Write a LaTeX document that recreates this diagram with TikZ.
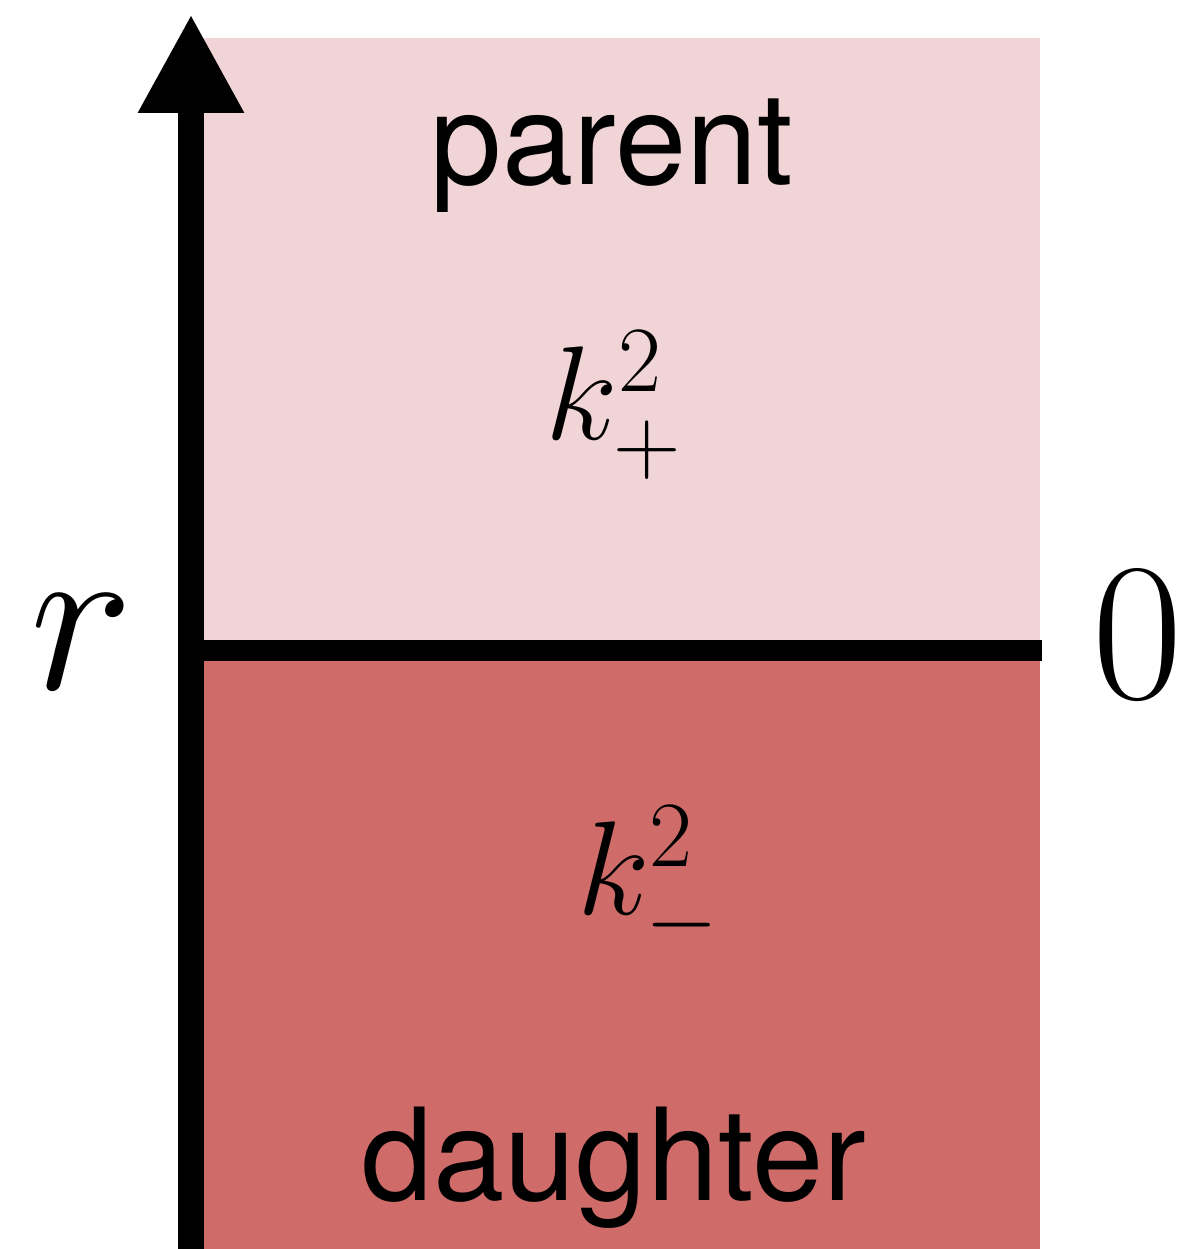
\RequirePackage{fix-cm}
\documentclass[tikz,border=0pt]{standalone}
\usepackage{fontspec}
\setsansfont{TeX Gyre Heros}
\usetikzlibrary{arrows.meta}
\definecolor{parentpink}{RGB}{241,213,214}
\definecolor{daughterred}{RGB}{207,108,106}
\begin{document}
\begin{tikzpicture}[x=0.02cm,y=0.02cm,
    word/.style={font=\sffamily\fontsize{73}{80}\selectfont,anchor=base,inner sep=0pt},
    wave/.style={font=\fontsize{76}{80}\selectfont,anchor=base,inner sep=0pt}]
  \useasboundingbox (0,0) rectangle (1183,1249);
  % the two regions
  \fill[parentpink] (190,599) rectangle (1040,1211);
  \fill[daughterred] (190,0) rectangle (1040,599);
  \node[word] (parent) at (612,1064) {parent};
  \node[wave] (kplus) at (614,809) {$k_+^2$};
  \node[wave] (kminus) at (648,334) {$k_-^2$};
  \node[word] (daughter) at (614,49) {daughter};
  % axis and the interface
  \draw[line width=0.42cm] (191,598) -- (1042,598);
  \draw[line width=0.52cm,-{Triangle[length=1.98cm,width=1.98cm]}] (191,0) -- (191,1235);
  \node[anchor=base,inner sep=0pt,font=\fontsize{125}{130}\selectfont] (axis) at (82,559) {$r$};
  \node[anchor=base,inner sep=0pt,font=\fontsize{112}{120}\selectfont] (zero) at (1138,550) {$0$};
\end{tikzpicture}
\end{document}
